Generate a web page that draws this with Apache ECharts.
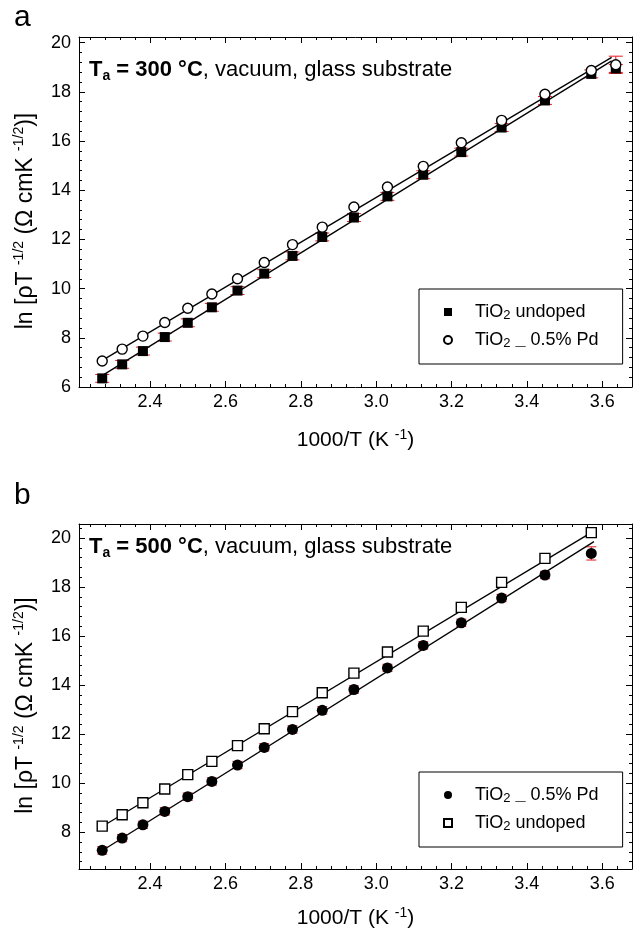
<!DOCTYPE html>
<html>
<head>
<meta charset="utf-8">
<script src="https://cdn.jsdelivr.net/npm/echarts@6/dist/echarts.min.js"></script>
<style>
html, body { margin: 0; padding: 0; background: #fff; }
#chart { width: 633px; height: 935px; }
</style>
</head>
<body>
<div id="chart"></div>
<script>
// 1000/T values (K^-1), same temperatures in both panels
var invT = [2.273, 2.326, 2.381, 2.439, 2.500, 2.564, 2.632, 2.703, 2.778, 2.857, 2.941, 3.030, 3.125, 3.226, 3.333, 3.448, 3.571, 3.636];

// panel a, Ta = 300 C
var undopedA = [6.35, 6.92, 7.46, 8.03, 8.61, 9.24, 9.92, 10.61, 11.33, 12.10, 12.89, 13.75, 14.63, 15.55, 16.55, 17.65, 18.73, 18.95];
var pdA = [7.06, 7.54, 8.07, 8.62, 9.20, 9.78, 10.40, 11.06, 11.79, 12.50, 13.32, 14.13, 14.97, 15.93, 16.84, 17.90, 18.87, 19.10];
var errUndopedA = [0.16, 0.16, 0.16, 0.16, 0.16, 0.16, 0.16, 0.16, 0.16, 0.16, 0.16, 0.16, 0.16, 0.16, 0.16, 0.16, 0.16, 0.16];
var errPdA = [0, 0, 0, 0, 0, 0, 0, 0, 0, 0, 0, 0, 0, 0, 0, 0, 0, 0.35];
var fitUndopedA = [[2.262, 6.36], [3.625, 19.26]];
var fitPdA = [[2.262, 6.98], [3.625, 19.40]];

// panel b, Ta = 500 C (no point at 3.636)
var pdB = [7.26, 7.76, 8.30, 8.85, 9.45, 10.07, 10.74, 11.46, 12.19, 12.97, 13.82, 14.70, 15.62, 16.54, 17.55, 18.49, 19.37];
var undopedB = [8.25, 8.71, 9.20, 9.76, 10.35, 10.89, 11.53, 12.22, 12.92, 13.69, 14.49, 15.35, 16.20, 17.17, 18.19, 19.17, 20.22];
var errPdB = [0.15, 0.15, 0.15, 0.15, 0.15, 0.15, 0.15, 0.15, 0.15, 0.15, 0.15, 0.15, 0.15, 0.15, 0.15, 0.15, 0.27];
var errUndopedB = [0.15, 0.15, 0.15, 0.15, 0.15, 0.15, 0.15, 0.15, 0.15, 0.15, 0.15, 0.15, 0.15, 0.15, 0.15, 0.15, 0.15];
var fitPdB = [[2.262, 7.14], [3.578, 19.85]];
var fitUndopedB = [[2.262, 8.13], [3.585, 20.35]];

// ticks
var xMajor = [2.4, 2.6, 2.8, 3.0, 3.2, 3.4, 3.6];
var yMajorA = [6, 8, 10, 12, 14, 16, 18, 20];
var yMajorB = [8, 10, 12, 14, 16, 18, 20];

var FONT = '"Liberation Sans", Arial, sans-serif';
var RED = '#e8191f';

function steps(from, to, step, skip) {
    var out = [];
    for (var v = from; v <= to + 1e-9; v += step) {
        var r = Math.round(v * 100) / 100;
        if (skip.indexOf(r) < 0) out.push(r);
    }
    return out;
}
var xMinor = steps(2.24, 3.64, 0.04, xMajor);
var yMinorA = steps(6.4, 20.0, 0.4, yMajorA);
var yMinorB = steps(6.8, 20.4, 0.4, yMajorB);

var chart = echarts.init(document.getElementById('chart'));

// four sides of a box, each with major + minor ticks drawn inward
function boxAxes(dim, grid, min, max, major, minor, name, nameGap) {
    var out = [];
    var sides = dim === 'x' ? ['bottom', 'top'] : ['left', 'right'];
    var fs = dim === 'x' ? 21 : 23;
    sides.forEach(function (pos, k) {
        out.push({
            type: 'value', gridIndex: grid, position: pos, min: min, max: max,
            name: k === 0 ? name : '', nameLocation: 'middle', nameGap: nameGap,
            nameRotate: dim === 'y' ? 90 : 0,
            nameTextStyle: {
                fontFamily: FONT, color: '#000',
                padding: dim === 'y' ? [0, 18, 0, 0] : 0,
                rich: {
                    n: { fontSize: fs, fontFamily: FONT, color: '#000', lineHeight: fs + 4 },
                    p: { fontSize: 14, fontFamily: FONT, color: '#000', lineHeight: 14, verticalAlign: 'top' }
                }
            },
            axisLine: { show: true, onZero: false, lineStyle: { color: '#000', width: 1 } },
            axisTick: { show: true, inside: true, length: 6, customValues: major, lineStyle: { color: '#000' } },
            axisLabel: {
                show: k === 0, customValues: major, margin: dim === 'x' ? 6 : 8,
                fontSize: 18, fontFamily: FONT, color: '#000',
                formatter: function (v) { return dim === 'x' ? v.toFixed(1) : String(v); }
            },
            splitLine: { show: false }
        });
        out.push({
            type: 'value', gridIndex: grid, position: pos, min: min, max: max,
            axisLine: { show: false },
            axisTick: { show: true, inside: true, length: 3, customValues: minor, lineStyle: { color: '#000' } },
            axisLabel: { show: false },
            splitLine: { show: false }
        });
    });
    return out;
}

var xName = '{n|1000/T (K }{p|-1}{n|)}';
var yName = '{n|ln [ρT }{p|-1/2}{n| (Ω cmK }{p|-1/2}{n|)]}';

var xAxes = boxAxes('x', 0, 2.2114, 3.679, xMajor, xMinor, xName, 41)
    .concat(boxAxes('x', 1, 2.2114, 3.679, xMajor, xMinor, xName, 37));
var yAxes = boxAxes('y', 0, 6, 20.23, yMajorA, yMinorA, yName, 40)
    .concat(boxAxes('y', 1, 6.5, 20.57, yMajorB, yMinorB, yName, 40));

function errorBars(xs, ys, errs, grid, hw) {
    return {
        type: 'custom', xAxisIndex: grid * 4, yAxisIndex: grid * 4, silent: true, z: 1,
        data: ys.map(function (y, i) { return [xs[i], y - errs[i], y + errs[i]]; }),
        encode: { x: 0, y: [1, 2] },
        renderItem: function (params, api) {
            var lo = api.coord([api.value(0), api.value(1)]);
            var hi = api.coord([api.value(0), api.value(2)]);
            if (Math.abs(lo[1] - hi[1]) < 0.5) return null;
            var st = { stroke: RED, lineWidth: 1 };
            return {
                type: 'group', children: [
                    { type: 'line', shape: { x1: lo[0], y1: lo[1], x2: hi[0], y2: hi[1] }, style: st },
                    { type: 'line', shape: { x1: lo[0] - hw, y1: lo[1], x2: lo[0] + hw, y2: lo[1] }, style: st },
                    { type: 'line', shape: { x1: hi[0] - hw, y1: hi[1], x2: hi[0] + hw, y2: hi[1] }, style: st }
                ]
            };
        }
    };
}

function fitLine(pts, grid) {
    return {
        type: 'line', xAxisIndex: grid * 4, yAxisIndex: grid * 4, data: pts,
        showSymbol: false, silent: true, z: 2,
        lineStyle: { color: '#000', width: 1.3 }
    };
}

function points(name, xs, ys, grid, symbol, size, filled) {
    return {
        name: name, type: 'scatter', xAxisIndex: grid * 4, yAxisIndex: grid * 4, z: 3,
        data: ys.map(function (y, i) { return [xs[i], y]; }),
        symbol: symbol, symbolSize: size,
        itemStyle: filled ? { color: '#000', opacity: 1 } : { color: '#fff', borderColor: '#000', borderWidth: 1.4, opacity: 1 }
    };
}

var invTB = invT.slice(0, pdB.length);

var labels = {
    aU: '{g|}{n|TiO}{s|2}{n| undoped}',
    aP: '{g|}{n|TiO}{s|2}{n| }{u|_}{n| 0.5% Pd}',
    bP: '{g|}{n|TiO}{s|2}{n| }{u|_}{n| 0.5% Pd}',
    bU: '{g|}{n|TiO}{s|2}{n| undoped}'
};
var legendRich = {
    g: { width: 18 },
    n: { fontSize: 18, fontFamily: FONT, color: '#000', lineHeight: 20 },
    s: { fontSize: 13, fontFamily: FONT, color: '#000', lineHeight: 9, verticalAlign: 'bottom' },
    u: { fontSize: 18, fontFamily: FONT, color: '#000', lineHeight: 20, fontWeight: 'bold' }
};
function legend(names, top) {
    return {
        data: names, orient: 'vertical', left: 419, top: top, selectedMode: false,
        borderColor: '#000', borderWidth: 1, borderRadius: 0,
        padding: [14, 24, 14, 24], itemGap: 9, itemWidth: 8, itemHeight: 8,
        formatter: function (n) { return labels[n]; },
        textStyle: { rich: legendRich }
    };
}

var titleRich = {
    b: { fontSize: 22, fontWeight: 'bold', fontFamily: FONT, color: '#000', lineHeight: 26 },
    bs: { fontSize: 14, fontWeight: 'bold', fontFamily: FONT, color: '#000', lineHeight: 14, verticalAlign: 'bottom' },
    n: { fontSize: 22, fontWeight: 'normal', fontFamily: FONT, color: '#000', lineHeight: 26 }
};

var option = {
    animation: false,
    backgroundColor: '#fff',
    title: [
        { text: 'a', left: 9, top: -2, textStyle: { fontSize: 30, fontWeight: 'normal', fontFamily: FONT, color: '#000' } },
        { text: 'b', left: 9, top: 476, textStyle: { fontSize: 30, fontWeight: 'normal', fontFamily: FONT, color: '#000' } },
        { text: '{b|T}{bs|a}{b| = 300 °C}{n|, vacuum, glass substrate}', left: 84, top: 52, textStyle: { fontWeight: 'normal', rich: titleRich } },
        { text: '{b|T}{bs|a}{b| = 500 °C}{n|, vacuum, glass substrate}', left: 84, top: 529, textStyle: { fontWeight: 'normal', rich: titleRich } }
    ],
    grid: [
        { left: 79, top: 37, width: 553, height: 350 },
        { left: 79, top: 524, width: 553, height: 345 }
    ],
    legend: [legend(['aU', 'aP'], 289), legend(['bP', 'bU'], 772)],
    xAxis: xAxes,
    yAxis: yAxes,
    series: [
        errorBars(invT, undopedA, errUndopedA, 0, 7),
        errorBars(invT, pdA, errPdA, 0, 7),
        fitLine(fitUndopedA, 0),
        fitLine(fitPdA, 0),
        points('aU', invT, undopedA, 0, 'rect', 10, true),
        points('aP', invT, pdA, 0, 'circle', 10, false),

        errorBars(invTB, pdB, errPdB, 1, 5),
        errorBars(invTB, undopedB, errUndopedB, 1, 5),
        fitLine(fitPdB, 1),
        fitLine(fitUndopedB, 1),
        points('bP', invTB, pdB, 1, 'circle', 11, true),
        points('bU', invTB, undopedB, 1, 'rect', 10, false)
    ]
};
chart.setOption(option);
</script>
</body>
</html>
